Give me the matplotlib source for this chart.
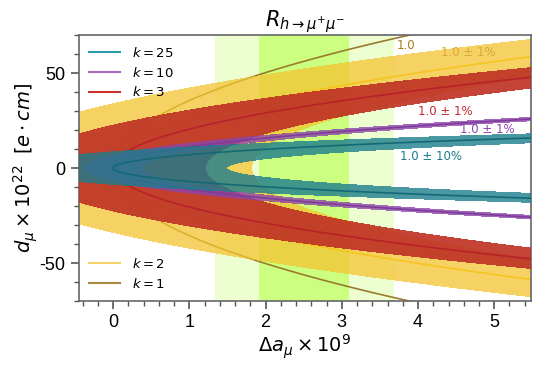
"""Contours of R(h -> mu mu) in the (Delta a_mu, d_mu) plane."""

import numpy as np
import matplotlib
matplotlib.use("Agg")
import matplotlib.pyplot as plt
from matplotlib.lines import Line2D
from matplotlib.ticker import MultipleLocator

plt.rcParams["font.family"] = ["Liberation Sans", "DejaVu Sans"]

# enhancement factors and the relative width of each band
k_values = [2, 3, 10, 25]
k_tolerance = [0.01, 0.01, 0.01, 0.10]
k_line_only = 1

# R = |1 - k c (da + i d / d_per_da)|^2, units 1e-9 and 1e-22 e cm
coupling_c = 1.38e-3
d_per_da = 0.9337

# measured Delta a_mu (x 1e-9)
da_central = 2.51
da_sigma = 0.59

label_text = {1: "1.0", 2: "1.0 ± 1%", 3: "1.0 ± 1%", 10: "1.0 ± 1%", 25: "1.0 ± 10%"}
label_pos = {1: (3.72, 62.5), 2: (4.3, 59), 3: (4.0, 28), 10: (4.55, 18.5), 25: (3.77, 4)}

band_color = {2: "#f4c430", 3: "#bf3426", 10: "#8e44ad", 25: "#1c7d8c"}
band_alpha = {2: 0.75, 3: 0.92, 10: 0.8, 25: 0.8}
line_color = {1: "#9a7b2c", 2: "#f7c41f", 3: "#b8222a", 10: "#7d3c98", 25: "#136a76"}
legend_color = {1: "#a88a40", 2: "#f7d36b", 3: "#c9302c", 10: "#a569bd", 25: "#2a9aa8"}
text_color = {1: "#a07d1c", 2: "#d9a93a", 3: "#c0282e", 10: "#8e44ad", 25: "#1a7a8a"}

da = np.linspace(-0.6, 5.7, 900)
dd = np.linspace(-80, 80, 1400)
DA, DD = np.meshgrid(da, dd)


def ratio(k):
    re = 1 - k * coupling_c * DA
    im = k * coupling_c * DD / d_per_da
    return re**2 + im**2


fig, ax = plt.subplots(figsize=(5.4, 3.69), dpi=100)
fig.subplots_adjust(left=0.146, right=0.983, top=0.905, bottom=0.184)

# 2 sigma and 1 sigma bands of the measurement
ax.axvspan(da_central - 2 * da_sigma, da_central + 2 * da_sigma,
           color="#adff2f", alpha=0.22, lw=0, zorder=0)
ax.axvspan(da_central - da_sigma, da_central + da_sigma,
           color="#adff2f", alpha=0.5, lw=0, zorder=0)

# k = 1 only has its central line, drawn underneath the bands
ax.contour(DA, DD, ratio(k_line_only), levels=[1.0],
           colors=[line_color[k_line_only]], linewidths=1.2, zorder=1)

z = 2
for k, tol in zip(k_values, k_tolerance):
    R = ratio(k)
    ax.contourf(DA, DD, R, levels=[1 - tol, 1 + tol],
                colors=[band_color[k]], alpha=band_alpha[k], zorder=z)
    ax.contour(DA, DD, R, levels=[1.0], colors=[line_color[k]],
               linewidths=1.2, zorder=z + 0.5)
    z += 1

for k, txt in label_text.items():
    x, y = label_pos[k]
    ax.text(x, y, txt, color=text_color[k], fontsize=8.5, zorder=10,
            family="DejaVu Sans")

ax.set_xlim(-0.45, 5.48)
ax.set_ylim(-70, 70)
ax.xaxis.set_major_locator(MultipleLocator(1))
ax.xaxis.set_minor_locator(MultipleLocator(0.2))
ax.yaxis.set_major_locator(MultipleLocator(50))
ax.yaxis.set_minor_locator(MultipleLocator(10))
ax.yaxis.set_major_formatter(lambda v, pos: f"{v:.0f}")
ax.tick_params(which="major", length=6, width=1.2, labelsize=13, color="#555555")
ax.tick_params(which="minor", length=3.5, width=1.0, color="#555555")
for spine in ax.spines.values():
    spine.set_color("#666666")
    spine.set_linewidth(1.2)

ax.set_title(r"$R_{h\to\mu^{+}\mu^{-}}$", fontsize=15, pad=4)
ax.set_xlabel(r"$\Delta a_{\mu}\times10^{9}$", fontsize=14, labelpad=1)
ax.set_ylabel(r"$d_{\mu}\times10^{22}$  $[e\cdot cm]$", fontsize=14, labelpad=0)

upper = [Line2D([], [], color=legend_color[k], lw=1.5, label=rf"$k={k}$")
         for k in (25, 10, 3)]
lower = [Line2D([], [], color=legend_color[k], lw=1.5, label=rf"$k={k}$")
         for k in (2, 1)]
leg1 = ax.legend(handles=upper, loc="upper left", frameon=False, fontsize=9.5,
                 handlelength=2.3, handletextpad=0.9, labelspacing=0.45,
                 borderaxespad=0.4)
leg1.set_zorder(11)
ax.add_artist(leg1)
leg2 = ax.legend(handles=lower, loc="lower left", frameon=False, fontsize=9.5,
                 handlelength=2.3, handletextpad=0.9, labelspacing=0.45,
                 borderaxespad=0.4)
leg2.set_zorder(11)

fig.savefig("out.png", dpi=100)
